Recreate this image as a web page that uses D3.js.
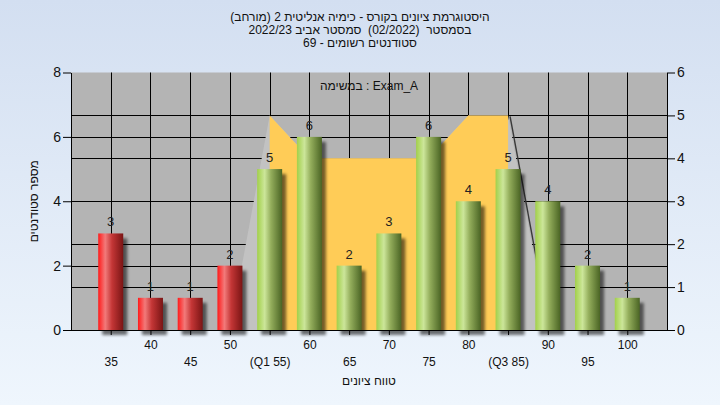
<!DOCTYPE html>
<html>
<head>
<meta charset="utf-8">
<script src="https://cdn.jsdelivr.net/npm/d3@7"></script>
<style>
  html, body { margin: 0; padding: 0; }
  body { width: 720px; height: 405px; overflow: hidden; }
  svg text { font-family: "Liberation Sans", Arial, sans-serif; white-space: pre; }
</style>
</head>
<body>
<svg id="chart" width="720" height="405"></svg>
<script>
// ---------- data ----------
const grades = [35, 40, 45, 50, 55, 60, 65, 70, 75, 80, 85, 90, 95, 100];
const counts = [3, 1, 1, 2, 5, 6, 2, 3, 6, 4, 5, 4, 2, 1];
const xTickLabels = ["35", "40", "45", "50", "(Q1 55)", "60", "65", "70", "75", "80", "(Q3 85)", "90", "95", "100"];
const areaGrades = [50, 55, 60, 65, 70, 75, 80, 85, 90];
const areaValues = [0, 5, 4, 4, 4, 4, 5, 5, 0];
const q1 = 55, q3 = 85;
const leftTicks = [0, 2, 4, 6, 8];
const rightTicks = [0, 1, 2, 3, 4, 5, 6];
const titleLines = [
  "היסטוגרמת ציונים בקורס - כימיה אנליטית 2 (מורחב)",
  "בסמסטר  (02/2022)  סמסטר אביב 2022/23",
  "סטודנטים רשומים - 69"
];
const subTitle = "במשימה : Exam_A";
const yTitle = "מספר סטודנטים";
const xTitle = "טווח ציונים";

// ---------- layout ----------
const W = 720, H = 405;
const L = 71, R = 667, T = 72.5, B = 330;
const LRM = "\u200E";

const svg = d3.select("#chart");
const defs = svg.append("defs");

const bg = defs.append("linearGradient").attr("id", "bgGrad")
  .attr("x1", 0).attr("y1", 0).attr("x2", 0).attr("y2", 1);
bg.append("stop").attr("offset", "0%").attr("stop-color", "#d3dff1");
bg.append("stop").attr("offset", "100%").attr("stop-color", "#eff6fd");

function barGrad(id, stops) {
  const g = defs.append("linearGradient").attr("id", id)
    .attr("x1", 0).attr("y1", 0).attr("x2", 1).attr("y2", 0);
  stops.forEach(s => g.append("stop").attr("offset", s[0]).attr("stop-color", s[1]));
}
barGrad("redGrad", [["0%", "#ff1a1a"], ["28%", "#f27a7a"], ["55%", "#c43636"], ["100%", "#7a1414"]]);
barGrad("greenGrad", [["0%", "#a2d04a"], ["30%", "#cce69a"], ["55%", "#94ae5c"], ["100%", "#4a6424"]]);

const f = defs.append("filter").attr("id", "shadow")
  .attr("x", "-50%").attr("y", "-50%").attr("width", "200%").attr("height", "200%");
f.append("feGaussianBlur").attr("stdDeviation", 1.6);

defs.append("clipPath").attr("id", "iqr").append("rect");

svg.append("rect").attr("width", W).attr("height", H).attr("fill", "url(#bgGrad)");

// scales
const x = d3.scaleLinear().domain([30, 105]).range([L, R]);
const yL = d3.scaleLinear().domain([0, 8]).range([B, T]);
const yR = d3.scaleLinear().domain([0, 6]).range([B, T]);

// plot background
svg.append("rect").attr("x", L).attr("y", T).attr("width", R - L).attr("height", B - T)
  .attr("fill", "#b4b4b4");

// gridlines
const grid = svg.append("g").attr("stroke", "#000").attr("stroke-width", 1);
const crisp = v => Math.round(v) + 0.5;
grades.forEach(g => grid.append("line")
  .attr("x1", crisp(x(g))).attr("x2", crisp(x(g))).attr("y1", T).attr("y2", B));
leftTicks.filter(v => v > 0 && v < 8).forEach(v => grid.append("line")
  .attr("x1", L).attr("x2", R).attr("y1", crisp(yL(v))).attr("y2", crisp(yL(v))));
rightTicks.filter(v => v > 0 && v < 6).forEach(v => grid.append("line")
  .attr("x1", L).attr("x2", R).attr("y1", crisp(yR(v))).attr("y2", crisp(yR(v))));

// area
const areaData = areaGrades.map((g, i) => ({ g, v: areaValues[i] }));
const area = d3.area().x(d => x(d.g)).y0(yR(0)).y1(d => yR(d.v));
svg.append("path").datum(areaData).attr("d", area).attr("fill", "#c2c2c2");
d3.select("#iqr rect").attr("x", x(q1)).attr("y", T).attr("width", x(q3) - x(q1)).attr("height", B - T);
svg.append("path").datum(areaData).attr("d", area).attr("fill", "#ffcc57")
  .attr("clip-path", "url(#iqr)");
// dark edge on the descending side
const tail = areaData.filter(d => d.g >= q3);
svg.append("path").datum(tail)
  .attr("d", d3.line().x(d => x(d.g) + 2).y(d => yR(d.v) + 1))
  .attr("fill", "none").attr("stroke", "#3a3a3a").attr("stroke-width", 1.4);

// bars
const bw = 25;
const barData = grades.map((g, i) => ({ g, c: counts[i] }));
svg.append("g").selectAll("rect").data(barData).join("rect")
  .attr("x", d => x(d.g) - bw / 2 + 4).attr("y", d => yL(d.c) + 5)
  .attr("width", bw).attr("height", d => B - yL(d.c))
  .attr("fill", "#000").attr("opacity", 0.55).attr("filter", "url(#shadow)");
svg.append("g").selectAll("rect").data(barData).join("rect")
  .attr("x", d => x(d.g) - bw / 2).attr("y", d => yL(d.c))
  .attr("width", bw).attr("height", d => B - yL(d.c))
  .attr("fill", d => d.g < q1 ? "url(#redGrad)" : "url(#greenGrad)");

// axes
const axL = svg.append("g").attr("transform", `translate(${L},0)`)
  .call(d3.axisLeft(yL).tickValues(leftTicks).tickSize(8).tickSizeOuter(0).tickPadding(2)
    .tickFormat(d3.format("d")));
const axR = svg.append("g").attr("transform", `translate(${R},0)`)
  .call(d3.axisRight(yR).tickValues(rightTicks).tickSize(8).tickSizeOuter(0).tickPadding(2)
    .tickFormat(d3.format("d")));
[axL, axR].forEach(a => {
  a.selectAll("text").attr("font-size", 14).attr("fill", "#111")
    .attr("font-family", "Liberation Sans, Arial, sans-serif");
  a.selectAll("line, path").attr("stroke", "#000");
});
const axB = svg.append("g").attr("transform", `translate(0,${B})`)
  .call(d3.axisBottom(x).tickValues(grades).tickSize(5).tickSizeOuter(0)
    .tickFormat((d, i) => xTickLabels[i]));
axB.select(".domain").attr("d", `M${L},0.5H${R}`).attr("stroke", "#000");
axB.selectAll("line").attr("stroke", "#000");
axB.selectAll("text").attr("font-size", 12).attr("fill", "#111")
  .attr("font-family", "Liberation Sans, Arial, sans-serif")
  .attr("dy", null)
  .attr("y", (d, i) => i % 2 === 0 ? 36 : 19);

// value labels
svg.append("g").selectAll("text").data(barData).join("text")
  .attr("x", d => x(d.g)).attr("y", d => yL(d.c) - 7)
  .attr("text-anchor", "middle").attr("font-size", 13).attr("fill", "#222")
  .text(d => d.c);

// titles (rendered in a left-to-right base direction, as in the original)
svg.append("g").selectAll("text").data(titleLines).join("text")
  .attr("x", 360).attr("y", (d, i) => 21 + i * 13)
  .attr("direction", "ltr")
  .attr("text-anchor", "middle").attr("font-size", 12).attr("fill", "#111")
  .text(d => LRM + d + LRM);
svg.append("text").attr("x", (L + R) / 2).attr("y", 90)
  .attr("direction", "ltr")
  .attr("text-anchor", "middle").attr("font-size", 12).attr("fill", "#111")
  .text(LRM + subTitle);
svg.append("text").attr("transform", `translate(38,${(T + B) / 2}) rotate(-90)`)
  .attr("text-anchor", "middle").attr("font-size", 12).attr("fill", "#111")
  .text(yTitle);
svg.append("text").attr("x", (L + R) / 2).attr("y", 385)
  .attr("text-anchor", "middle").attr("font-size", 12).attr("fill", "#111")
  .text(xTitle);
</script>
</body>
</html>
